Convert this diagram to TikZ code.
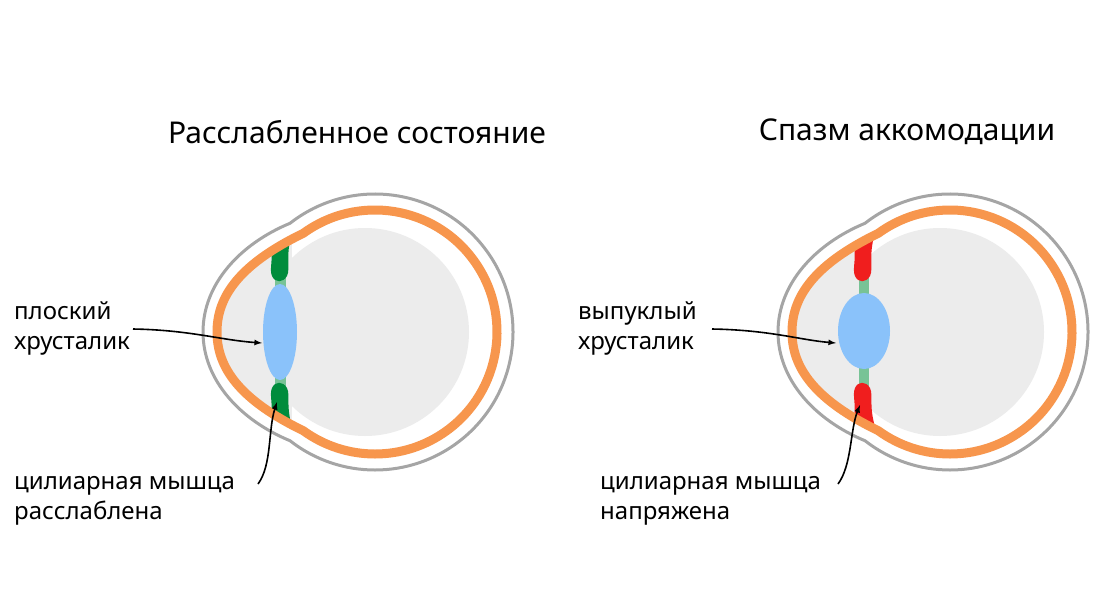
\documentclass[tikz,border=0pt]{standalone}
\usepackage{fontspec}
\setmainfont{Noto Sans}
\definecolor{ringgray}{RGB}{165,165,165}
\definecolor{bodygray}{RGB}{236,236,236}
\definecolor{sclera}{RGB}{247,150,77}
\definecolor{lensblue}{RGB}{138,194,250}
\definecolor{zonule}{RGB}{120,195,150}
\definecolor{musclegreen}{RGB}{0,140,60}
\definecolor{musclered}{RGB}{240,30,30}
\begin{document}
\begin{tikzpicture}[x=1pt,y=-1pt,
  title/.style={font=\fontsize{30}{36}\selectfont},
  label/.style={font=\fontsize{24}{30}\selectfont,align=left,anchor=north west,inner sep=0pt},
  pointer/.style={->,>=latex,line width=1.6pt}]
\useasboundingbox (0,0) rectangle (1100,600);

% both eyeballs, the second one shifted to the right
\foreach \dx in {0,575}{
\begin{scope}[xshift=\dx]
% outer gray shell
\draw[ringgray,line width=3pt,fill=white] (375,332)+(232:138) arc (232:488:138)
  .. controls (240,420) and (203,380) .. (203,332) .. controls (203,284) and (240,244) .. cycle;
% inner body
\fill[bodygray] (365,332) circle (104);
\begin{scope}
\clip (375,332)+(234:122) arc (234:486:122)
  .. controls (240,400) and (217,368) .. (217,332) .. controls (217,296) and (240,264) .. cycle;
\fill[bodygray] (200,200) rectangle (292,460);
\ifnum\dx=0
% relaxed eye: flat lens
\fill[zonule] (275,272) rectangle (286,392);
\fill[musclegreen] (266,226) -- (294,226) .. controls (284,255) and (291,268) .. (287,276)
  .. controls (283,283) and (275,283) .. (272,276) .. controls (268,268) and (277,255) .. cycle;
\fill[musclegreen] (266,438) -- (296,438) .. controls (284,409) and (291,396) .. (287,388)
  .. controls (283,381) and (275,381) .. (272,388) .. controls (268,396) and (277,409) .. cycle;
\fill[lensblue] (280,332) ellipse (17 and 48);
\else
% spasm eye: round lens
\fill[zonule] (284,268) rectangle (294,396);
\fill[musclered] (274,226) -- (302,226) .. controls (292,255) and (299,268) .. (295,276)
  .. controls (291,283) and (283,283) .. (280,276) .. controls (276,268) and (285,255) .. cycle;
\fill[musclered] (274,438) -- (304,438) .. controls (292,409) and (299,396) .. (295,388)
  .. controls (291,381) and (283,381) .. (280,388) .. controls (276,396) and (285,409) .. cycle;
\fill[lensblue] (289,331) ellipse (26 and 38);
\fi
\end{scope}
% sclera
\draw[sclera,line width=9pt] (375,332)+(234:122) arc (234:486:122)
  .. controls (240,400) and (217,368) .. (217,332) .. controls (217,296) and (240,264) .. cycle;
\end{scope}
}

% titles
\node[title] (reltitle) at (357,132) {Расслабленное состояние};
\node[title] (spatitle) at (907,132) {Спазм аккомодации};

% labels
\node[label] (flatlens) at (14,302) {плоский\\хрусталик};
\node[label] (relmuscle) at (14,476) {цилиарная мышца\\расслаблена};
\node[label] (roundlens) at (578,302) {выпуклый\\хрусталик};
\node[label] (tensemuscle) at (600,476) {цилиарная мышца\\напряжена};

\coordinate (flattail) at (133,329);
\coordinate (reltail) at (258,484);
\coordinate (roundtail) at (712,329);
\coordinate (tensetail) at (838,484);
\coordinate (flattip) at (262,343);
\coordinate (reltip) at (277,402);
\coordinate (roundtip) at (836,343);
\coordinate (tensetip) at (860,405);

\draw[pointer] (flattail) .. controls (190,330) and (220,340) .. (flattip);
\draw[pointer] (reltail) .. controls (272,465) and (268,430) .. (reltip);
\draw[pointer] (roundtail) .. controls (770,330) and (800,340) .. (roundtip);
\draw[pointer] (tensetail) .. controls (852,465) and (850,430) .. (tensetip);
\end{tikzpicture}
\end{document}
